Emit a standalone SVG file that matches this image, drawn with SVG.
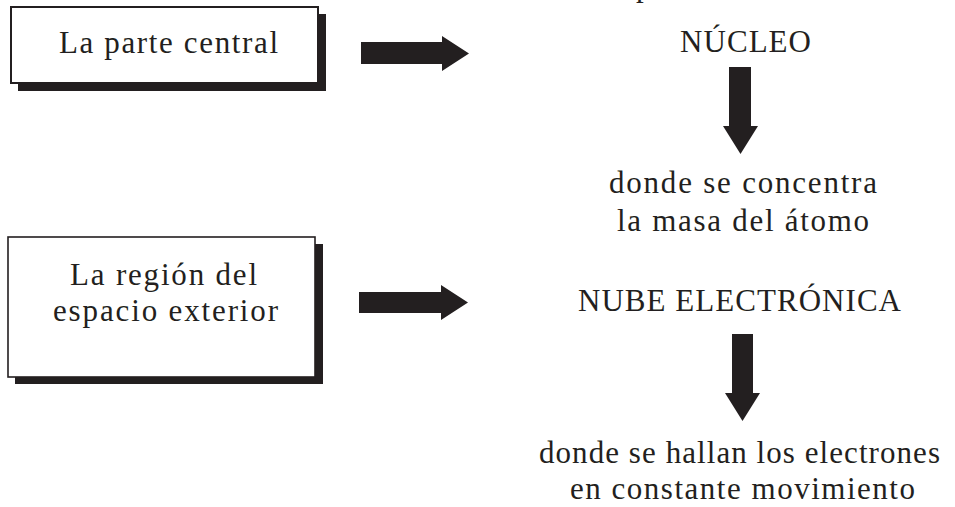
<svg xmlns="http://www.w3.org/2000/svg" width="955" height="507" viewBox="0 0 955 507">
  <style>
    .t { font-family: "Liberation Serif", "Times New Roman", Times, serif; font-size: 31px; fill: #231f20; }
    .box { fill: #ffffff; stroke: #231f20; }
    .shadow { fill: #231f20; }
    .arrow { fill: #231f20; }
  </style>
  <rect width="955" height="507" fill="#ffffff"/>
  <text class="t" x="636" y="-4" font-family="Liberation Serif, serif">p</text>

  <g id="box-parte-central">
    <rect class="shadow" x="18" y="14" width="308" height="77"/>
    <rect class="box" x="11" y="7" width="307" height="76" stroke-width="2"/>
    <text class="t" x="59" y="53" textLength="219" lengthAdjust="spacing">La parte central</text>
  </g>

  <g id="box-region">
    <rect class="shadow" x="15" y="244" width="308" height="140"/>
    <rect class="box" x="8" y="237" width="307" height="140" stroke-width="1.6"/>
    <text class="t" x="70" y="285" textLength="187" lengthAdjust="spacing">La región del</text>
    <text class="t" x="53" y="321" textLength="225" lengthAdjust="spacing">espacio exterior</text>
  </g>

  <g id="nucleo">
    <text class="t" x="680" y="52" textLength="131" lengthAdjust="spacing">NÚCLEO</text>
  </g>

  <g id="masa">
    <text class="t" x="609" y="193" textLength="268" lengthAdjust="spacing">donde se concentra</text>
    <text class="t" x="617" y="231" textLength="252" lengthAdjust="spacing">la masa del átomo</text>
  </g>

  <g id="nube">
    <text class="t" x="578" y="311" textLength="323" lengthAdjust="spacing">NUBE ELECTRÓNICA</text>
  </g>

  <g id="electrones">
    <text class="t" x="539" y="463" textLength="401" lengthAdjust="spacing">donde se hallan los electrones</text>
    <text class="t" x="570" y="499" textLength="345" lengthAdjust="spacing">en constante movimiento</text>
  </g>

  <g id="connectors">
    <polygon class="arrow" points="361,42 442,42 442,36 469,53.5 442,71 442,64 361,64"/>
    <polygon class="arrow" points="359,292 441,292 441,285 468,302.5 441,320 441,313 359,313"/>
    <polygon class="arrow" points="729,67 751,67 751,126 758,126 740.5,154 723,126 729,126"/>
    <polygon class="arrow" points="732,334 753,334 753,393 760,393 742.5,421 725,393 732,393"/>
  </g>
</svg>
